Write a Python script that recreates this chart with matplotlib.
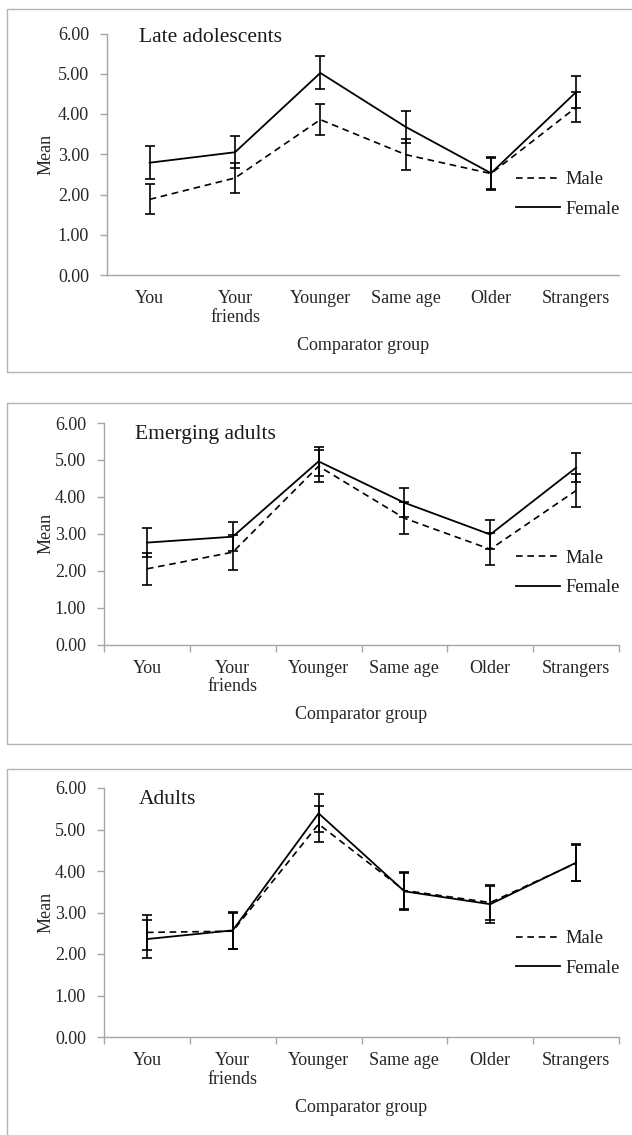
import numpy as np
import matplotlib
matplotlib.use('Agg')
import matplotlib.pyplot as plt
from matplotlib.patches import Rectangle

plt.rcParams['font.family'] = ['Liberation Serif', 'DejaVu Serif']

# ------ data ------
groups = ['You', 'Your\nfriends', 'Younger', 'Same age', 'Older', 'Strangers']
yticks = [0, 1, 2, 3, 4, 5, 6]

late_male = [1.88, 2.41, 3.86, 2.99, 2.52, 4.17]
late_male_err = [0.37, 0.37, 0.38, 0.38, 0.38, 0.38]
late_female = [2.79, 3.05, 5.02, 3.68, 2.53, 4.55]
late_female_err = [0.41, 0.40, 0.41, 0.40, 0.41, 0.40]

emer_male = [2.05, 2.50, 4.83, 3.42, 2.58, 4.17]
emer_male_err = [0.44, 0.47, 0.44, 0.44, 0.44, 0.44]
emer_female = [2.76, 2.92, 4.96, 3.84, 2.98, 4.79]
emer_female_err = [0.40, 0.39, 0.39, 0.39, 0.39, 0.40]

adult_male = [2.52, 2.55, 5.13, 3.53, 3.24, 4.19]
adult_male_err = [0.42, 0.44, 0.43, 0.44, 0.43, 0.44]
adult_female = [2.36, 2.57, 5.39, 3.51, 3.20, 4.20]
adult_female_err = [0.46, 0.45, 0.46, 0.45, 0.45, 0.45]

titles = ['Late adolescents', 'Emerging adults', 'Adults']

W, H = 632, 1135
fig = plt.figure(figsize=(W / 100, H / 100), dpi=100)

# pixel layout: axes (left, right, top, bottom), frame (top, bottom), title pos, legend centre y
panels = [
    dict(ax=(107, 619, 33.5, 275), box=(9, 372), tx=139, ty=37, leg=194.5, ticks=False,
         male=late_male, me=late_male_err, fem=late_female, fe=late_female_err),
    dict(ax=(104, 619, 423, 644.5), box=(403, 744), tx=135, ty=434, leg=573, ticks=True,
         male=emer_male, me=emer_male_err, fem=emer_female, fe=emer_female_err),
    dict(ax=(104, 619, 788, 1037), box=(769, 1145), tx=139, ty=799, leg=953.5, ticks=True,
         male=adult_male, me=adult_male_err, fem=adult_female, fe=adult_female_err),
]

grey = '#a6a6a6'
txt = '#262626'
fs = 13
x = np.arange(len(groups))

for p, title in zip(panels, titles):
    l, r, t, b = p['ax']
    # panel frame
    bt, bb = p['box']
    fig.patches.append(Rectangle((7 / W, 1 - bb / H), (640 - 7) / W, (bb - bt) / H,
                                 transform=fig.transFigure, fill=False,
                                 edgecolor='#b3b3b3', linewidth=1.0))
    ax = fig.add_axes([l / W, 1 - b / H, (r - l) / W, (b - t) / H])
    ax.patch.set_alpha(0)

    ax.errorbar(x, p['male'], yerr=p['me'], color='black', linewidth=1.2,
                dashes=(4, 2.8), elinewidth=1.2, capsize=3.5, capthick=1.2, label='Male')
    ax.errorbar(x, p['fem'], yerr=p['fe'], color='black', linewidth=1.3,
                elinewidth=1.2, capsize=3.5, capthick=1.2, label='Female')

    ax.set_xlim(-0.5, len(groups) - 0.5)
    ax.set_ylim(0, 6)
    ax.set_yticks(yticks)
    ax.set_yticklabels(['%.2f' % v for v in yticks])
    ax.set_xticks(x)
    ax.set_xticklabels(groups, linespacing=1.1)
    if p['ticks']:
        ax.set_xticks(np.arange(-0.5, len(groups)), minor=True)
        ax.tick_params(axis='x', which='minor', length=5, color=grey, width=1)
    ax.tick_params(axis='x', which='major', length=0, pad=11, labelsize=fs, colors=txt)
    ax.tick_params(axis='y', length=5, color=grey, width=1, pad=8, labelsize=fs,
                   labelcolor=txt)

    for s in ['top', 'right']:
        ax.spines[s].set_visible(False)
    for s in ['left', 'bottom']:
        ax.spines[s].set_color(grey)
        ax.spines[s].set_linewidth(1.0)

    ax.set_ylabel('Mean', fontsize=fs, color=txt, va='center')
    ax.yaxis.set_label_coords(-(l - 46) / (r - l), 0.5)
    ax.set_xlabel('Comparator group', fontsize=fs, color=txt, va='center')
    ax.xaxis.set_label_coords(0.5, -70 / (b - t))

    ax.text((p['tx'] - l) / (r - l), 1 - (p['ty'] - t) / (b - t), title,
            transform=ax.transAxes, fontsize=15.5, va='center', ha='left', color='#1a1a1a')

    handles, labels = ax.get_legend_handles_labels()
    handles = [h[0] for h in handles]
    ax.legend(handles, labels, loc='center left', bbox_to_anchor=(516 / W, 1 - p['leg'] / H),
              bbox_transform=fig.transFigure, frameon=False, fontsize=13.2,
              handlelength=2.4, handletextpad=0.3, labelspacing=0.68,
              borderpad=0, borderaxespad=0, labelcolor='#1a1a1a')

fig.savefig('out.png', dpi=100, facecolor='white')
